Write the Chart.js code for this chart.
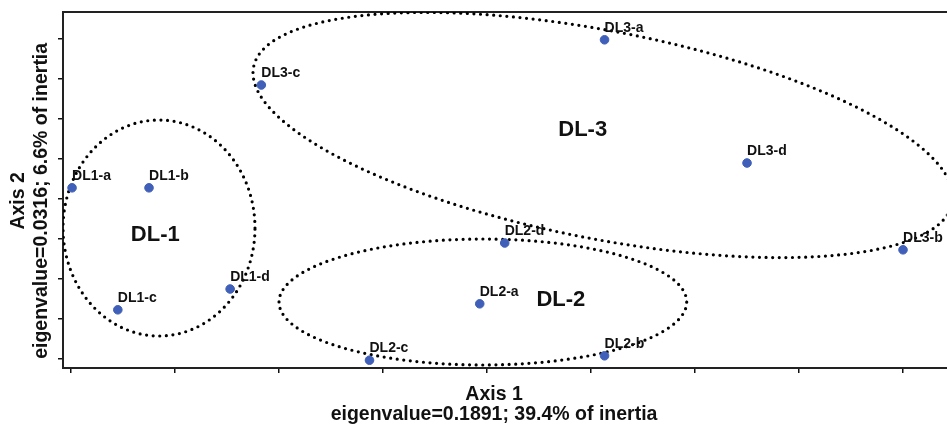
<!DOCTYPE html>
<html>
<head>
<meta charset="utf-8">
<script src="https://cdn.jsdelivr.net/npm/chart.js@4.4.1/dist/chart.umd.min.js"></script>
<style>
  html, body { margin: 0; padding: 0; background: #fff; overflow: hidden; }
  /* a little wider than the window: Chart.js keeps point-radius padding on the right */
  #wrap { width: 952px; height: 428px; position: relative; }
</style>
</head>
<body>
<div id="wrap"><canvas id="myChartCA"></canvas></div>
<script>
// sample scores on the first two axes
const pointNames = ["DL1-a", "DL1-b", "DL1-c", "DL1-d", "DL2-a", "DL2-b", "DL2-c", "DL2-d", "DL3-a", "DL3-b", "DL3-c", "DL3-d"];
const axis1Scores = [0.01, 0.75, 0.45, 1.53, 3.93, 5.13, 2.87, 4.17, 5.13, 8.0, 1.83, 6.5];
const axis2Scores = [4.28, 4.28, 1.23, 1.75, 1.38, 0.08, -0.03, 2.9, 7.98, 2.73, 6.85, 4.9];

// groups: name position and ellipse (centre + two semi-axis vectors, data units)
const groupNames = ["DL-1", "DL-2", "DL-3"];
const groupLabelX = [0.81, 4.71, 4.92];
const groupLabelY = [3.09, 1.475, 5.725];
const ellipseCx = [0.846, 3.96, 5.115];
const ellipseCy = [3.275, 1.425, 5.6];
const ellipseAx = [0.923, 1.96, 3.36];
const ellipseAy = [0, 0, -1.7];
const ellipseBx = [0, 0, -0.19];
const ellipseBy = [2.7, 1.575, -2.55];

const xTickValues = [0, 1, 2, 3, 4, 5, 6, 7, 8];
const yTickValues = [0, 1, 2, 3, 4, 5, 6, 7, 8];

Chart.defaults.font.family = "'Liberation Sans', Arial, sans-serif";
Chart.defaults.color = "#111";

const groupPlugin = {
  id: "groupEllipses",
  beforeDatasetsDraw(chart) {
    const { ctx, chartArea } = chart;
    const xs = chart.scales.x;
    const ys = chart.scales.y;
    ctx.save();
    ctx.beginPath();
    ctx.rect(chartArea.left, chartArea.top, chartArea.width, chartArea.height);
    ctx.clip();
    ctx.strokeStyle = "#000";
    ctx.lineWidth = 3.2;
    ctx.lineCap = "round";
    ctx.setLineDash([0, 6.6]);
    for (let g = 0; g < groupNames.length; g++) {
      ctx.beginPath();
      const steps = 240;
      for (let k = 0; k <= steps; k++) {
        const t = (k / steps) * Math.PI * 2;
        const vx = ellipseCx[g] + ellipseAx[g] * Math.cos(t) + ellipseBx[g] * Math.sin(t);
        const vy = ellipseCy[g] + ellipseAy[g] * Math.cos(t) + ellipseBy[g] * Math.sin(t);
        const px = xs.getPixelForValue(vx);
        const py = ys.getPixelForValue(vy);
        if (k === 0) ctx.moveTo(px, py);
        else ctx.lineTo(px, py);
      }
      ctx.stroke();
    }
    ctx.setLineDash([]);
    ctx.fillStyle = "#111";
    ctx.font = "bold 22px 'Liberation Sans', Arial, sans-serif";
    ctx.textAlign = "center";
    ctx.textBaseline = "middle";
    for (let g = 0; g < groupNames.length; g++) {
      ctx.fillText(groupNames[g], xs.getPixelForValue(groupLabelX[g]), ys.getPixelForValue(groupLabelY[g]));
    }
    ctx.restore();
  },
  afterDatasetsDraw(chart) {
    // point labels sit up and to the right of each point
    const ctx = chart.ctx;
    const meta = chart.getDatasetMeta(0);
    ctx.save();
    ctx.fillStyle = "#111";
    ctx.font = "bold 14px 'Liberation Sans', Arial, sans-serif";
    ctx.textAlign = "left";
    ctx.textBaseline = "alphabetic";
    meta.data.forEach((pt, i) => {
      ctx.fillText(pointNames[i], pt.x, pt.y - 8);
    });
    ctx.restore();
  },
};

const ctx = document.getElementById("myChartCA").getContext("2d");

new Chart(ctx, {
  type: "scatter",
  data: {
    datasets: [
      {
        label: "samples",
        data: axis1Scores.map((v, i) => ({ x: v, y: axis2Scores[i] })),
        backgroundColor: "#3f5fb8",
        borderColor: "#3f5fb8",
        pointRadius: 4.3,
        pointHoverRadius: 4.3,
      },
    ],
  },
  options: {
    responsive: true,
    maintainAspectRatio: false,
    animation: false,
    events: [],
    layout: {
      padding: { top: 12, left: 6, right: 0, bottom: 0 },
    },
    plugins: {
      legend: { display: false },
      tooltip: { enabled: false },
    },
    scales: {
      x: {
        type: "linear",
        min: -0.0769,
        max: 8.42,
        afterBuildTicks: (axis) => {
          axis.ticks = xTickValues.map((v) => ({ value: v }));
        },
        ticks: { display: false },
        grid: { drawOnChartArea: false, drawTicks: true, tickLength: 5, color: "#111", lineWidth: 1.5 },
        border: { display: true, color: "#222", width: 2 },
        title: {
          display: true,
          // trailing spaces nudge the centred title left like the original
          text: ["Axis 1    ", "eigenvalue=0.1891; 39.4% of inertia    "],
          font: { size: 19.5, weight: "bold", lineHeight: 1.0 },
          padding: { top: 12, bottom: 4 },
          color: "#111",
        },
      },
      xTop: {
        type: "linear",
        position: "top",
        min: 0,
        max: 1,
        ticks: { display: false },
        grid: { display: false, drawTicks: false },
        border: { display: true, color: "#222", width: 2 },
      },
      y: {
        type: "linear",
        min: -0.225,
        max: 8.675,
        afterBuildTicks: (axis) => {
          axis.ticks = yTickValues.map((v) => ({ value: v }));
        },
        ticks: { display: false },
        grid: { drawOnChartArea: false, drawTicks: true, tickLength: 5, color: "#111", lineWidth: 1.5 },
        border: { display: true, color: "#222", width: 2 },
        title: {
          display: true,
          text: ["Axis 2    ", "eigenvalue=0.0316; 6.6% of inertia    "],
          font: { size: 19.5, weight: "bold", lineHeight: 1.18 },
          padding: { top: 1, bottom: 5 },
          color: "#111",
        },
      },
    },
  },
  plugins: [groupPlugin],
});
</script>
</body>
</html>
